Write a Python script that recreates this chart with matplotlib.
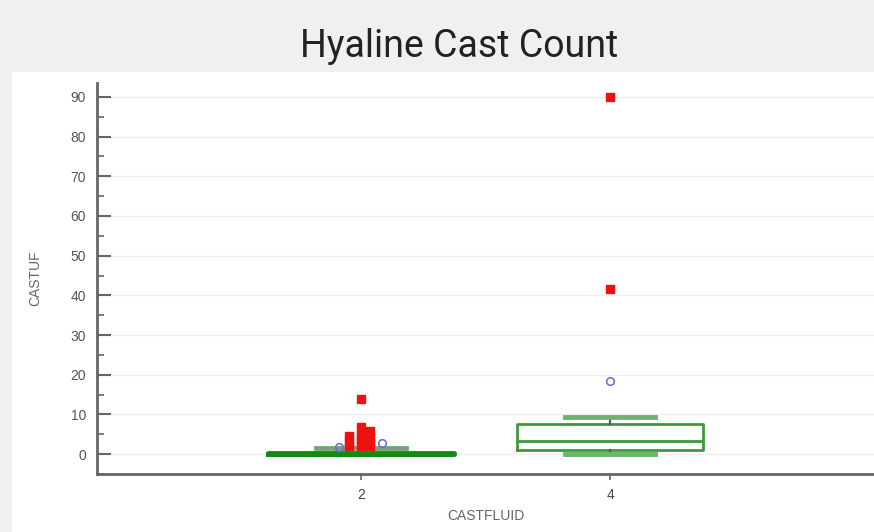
import matplotlib.pyplot as plt
from matplotlib.patches import Rectangle
from matplotlib.ticker import MultipleLocator

# box summary per CASTFLUID group
groups = [2, 4]
q1 = [0.0, 1.0]
med = [0.0, 3.3]
q3 = [0.2, 7.6]
whislo = [0.0, 0.0]
whishi = [1.5, 9.3]

# near outliers (open blue circles): group, offset, value
near_grp = [2, 2, 2, 4]
near_off = [-0.18, 0.07, 0.17, 0.0]
near_val = [1.9, 2.0, 2.8, 18.5]

# far outliers (red squares)
far_grp = [2, 2, 2, 2, 2, 2, 2, 2, 2, 2, 2, 2, 2, 4, 4]
far_off = [-0.1, -0.1, -0.1, 0.0, 0.0, 0.0, 0.0, 0.0, 0.07, 0.07, 0.07, 0.07, 0.0, 0.0, 0.0]
far_val = [2, 3, 4.5, 2, 3, 4, 5, 6.8, 2, 3, 4, 5.8, 14, 41.7, 90]

plt.rcParams["font.family"] = ["Liberation Sans", "DejaVu Sans"]

fig = plt.figure(figsize=(8.74, 5.32), dpi=100, facecolor="#f0f0f0")
fig.patches.append(Rectangle((12 / 874, 0), 1, (532 - 72) / 532, transform=fig.transFigure,
                             facecolor="white", edgecolor="none", zorder=-5))

ax = fig.add_axes([97 / 874, 58 / 532, 1 - 97 / 874, (474 - 83) / 532])
ax.set_facecolor("none")

stats = [dict(med=med[i], q1=q1[i], q3=q3[i], whislo=whislo[i], whishi=whishi[i], fliers=[])
         for i in range(len(groups))]
ax.bxp(stats, positions=groups, widths=1.5, showfliers=False,
       boxprops=dict(color="#3c9a3c", linewidth=2),
       medianprops=dict(color="#3c9a3c", linewidth=2),
       whiskerprops=dict(color="#555555", linewidth=1.5),
       capprops=dict(color="#6cb36c", linewidth=3.5), capwidths=0.72, manage_ticks=False)
# group 2 box collapses to a thick line
ax.bxp(stats[:1], positions=groups[:1], widths=1.5, showfliers=False,
       boxprops=dict(color="#138a13", linewidth=3.5),
       medianprops=dict(color="#138a13", linewidth=3.5),
       whiskerprops=dict(color="#555555", linewidth=1.5),
       capprops=dict(color="#8a948a", linewidth=1.8), capwidths=0.72, manage_ticks=False)

ax.plot([g + o for g, o in zip(near_grp, near_off)], near_val, "o", ms=5.5,
        mfc="none", mec="#6a6ad8", mew=1.1, zorder=4)
ax.plot([g + o for g, o in zip(far_grp, far_off)], far_val, "s", ms=6,
        color="#ee1111", zorder=5)

ax.set_xlim(-0.12, 6.12)
ax.set_ylim(-5, 93.5)
ax.set_xticks(groups)
ax.yaxis.set_major_locator(MultipleLocator(10))
ax.yaxis.set_minor_locator(MultipleLocator(5))
ax.grid(axis="y", color="#efefef", linewidth=1)
ax.set_axisbelow(True)

for s in ["top", "right"]:
    ax.spines[s].set_visible(False)
for s in ["left", "bottom"]:
    ax.spines[s].set_color("#666666")
    ax.spines[s].set_linewidth(2)

ax.tick_params(axis="y", which="major", direction="in", length=10, width=1.5,
               color="#666666", labelcolor="#555555", labelsize=10, pad=8)
ax.tick_params(axis="y", which="minor", direction="in", length=5, width=1.2, color="#666666")
ax.tick_params(axis="x", direction="out", length=4, width=1.2, color="#666666",
               labelcolor="#444444", labelsize=10, pad=6)

ax.set_xlabel("CASTFLUID", color="#666666", fontsize=10, labelpad=5)
ax.set_ylabel("CASTUF", color="#666666", fontsize=10, labelpad=20)

fig.text(0.525, 0.913, "Hyaline Cast Count", ha="center", va="center", fontsize=27,
         color="#222222", family="Roboto")

fig.savefig("out.png", dpi=100, facecolor=fig.get_facecolor())
